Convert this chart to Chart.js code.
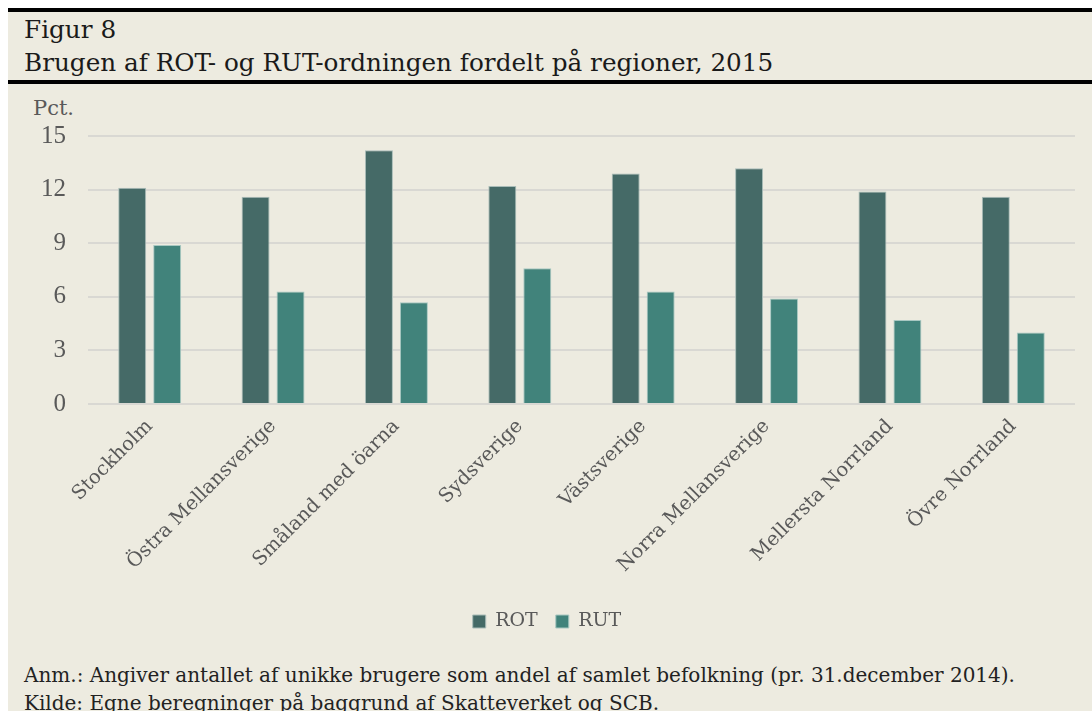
<!DOCTYPE html>
<html>
<head>
<meta charset="utf-8">
<script src="https://cdn.jsdelivr.net/npm/chart.js@4"></script>
<style>
  html, body { margin: 0; padding: 0; background: #fff; }
  body { width: 1092px; height: 711px; position: relative; overflow: hidden; font-family: "DejaVu Serif", serif; }
  .panel { position: absolute; left: 8px; top: 8px; width: 1084px; height: 703px; background: #edebe0; border-top: 4px solid #000; }
  .title { position: absolute; left: 16px; color: #1a1a1a; font-size: 24.7px; line-height: 30px; white-space: nowrap; }
  .rule { position: absolute; left: 0; width: 1084px; top: 68px; height: 4px; background: #000; }
  .unit { position: absolute; left: 25px; top: 84px; font-size: 21px; line-height: 24px; color: #595959; }
  .note { position: absolute; left: 16px; font-size: 20px; line-height: 28px; color: #222; white-space: nowrap; }
  #wrap { position: absolute; left: 0; top: 87px; width: 1084px; height: 542px; }
</style>
</head>
<body>
<div class="panel">
  <div class="title" style="top: 3px;">Figur 8</div>
  <div class="title" style="top: 36px;">Brugen af ROT- og RUT-ordningen fordelt på regioner, 2015</div>
  <div class="rule"></div>
  <div class="unit">Pct.</div>
  <div id="wrap"><canvas id="myChart"></canvas></div>
  <div class="note" style="top: 649px;">Anm.: Angiver antallet af unikke brugere som andel af samlet befolkning (pr. 31.december 2014).</div>
  <div class="note" style="top: 677px;">Kilde: Egne beregninger på baggrund af Skatteverket og SCB.</div>
</div>
<script>
  // data
  const regions = [
    'Stockholm',
    'Östra Mellansverige',
    'Småland med öarna',
    'Sydsverige',
    'Västsverige',
    'Norra Mellansverige',
    'Mellersta Norrland',
    'Övre Norrland',
  ];
  const rot = [12.1, 11.6, 14.2, 12.2, 12.9, 13.2, 11.9, 11.6];
  const rut = [8.9, 6.3, 5.7, 7.6, 6.3, 5.9, 4.7, 4.0];
  const yTicks = [0, 3, 6, 9, 12, 15];

  const data = {
    labels: regions,
    datasets: [
      {
        label: 'ROT',
        data: rot,
        backgroundColor: '#456a67',
        borderColor: '#a9bcb8',
        borderWidth: 1,
        categoryPercentage: 0.567,
        barPercentage: 0.8,
      },
      {
        label: 'RUT',
        data: rut,
        backgroundColor: '#41837b',
        borderColor: '#a9c8c2',
        borderWidth: 1,
        categoryPercentage: 0.567,
        barPercentage: 0.8,
      }
    ]
  };

  const config = {
    type: 'bar',
    data: data,
    options: {
      responsive: false,
      animation: false,
      layout: { padding: { left: 11, right: 17, top: 0, bottom: 0 } },
      scales: {
        x: {
          grid: { display: false },
          border: { display: false },
          ticks: {
            color: '#595959',
            font: { family: 'DejaVu Serif', size: 19.5 },
            minRotation: 45,
            maxRotation: 45,
          },
          // leave the gap between the tick labels and the legend
          afterFit: (scale) => { scale.height = 190; }
        },
        y: {
          min: 0,
          max: 15,
          afterBuildTicks: (axis) => { axis.ticks = yTicks.map(v => ({ value: v })); },
          grid: { color: '#d9d8d3', lineWidth: 2, drawTicks: false },
          border: { display: false },
          ticks: {
            color: '#595959',
            font: { family: 'Liberation Serif', size: 25 },
            padding: 22,
          }
        }
      },
      plugins: {
        legend: {
          position: 'bottom',
          labels: {
            color: '#595959',
            font: { family: 'DejaVu Serif', size: 19 },
            boxWidth: 13,
            boxHeight: 13,
            padding: 18,
          }
        },
        tooltip: { enabled: false }
      }
    }
  };

  const canvas = document.getElementById('myChart');
  canvas.width = 1084;
  canvas.height = 542;
  const myChart = new Chart(canvas, config);
</script>
</body>
</html>
